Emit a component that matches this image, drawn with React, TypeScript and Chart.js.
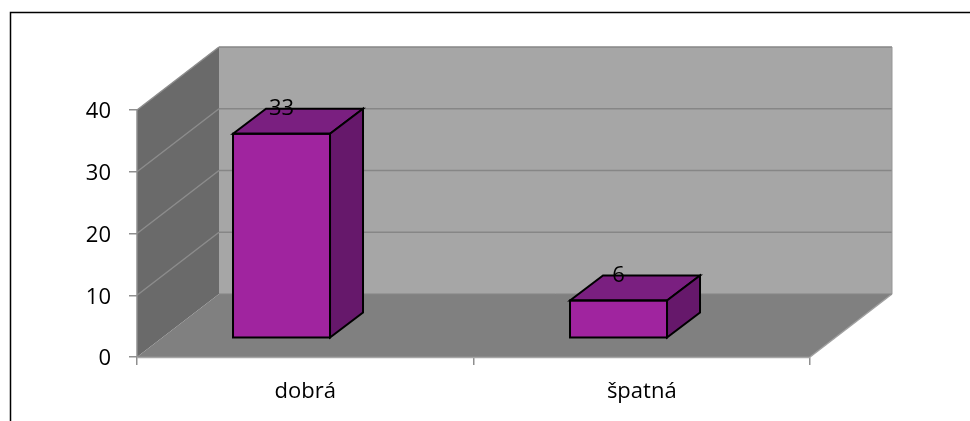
import React, { useEffect, useRef } from "react";
import { Chart, registerables } from "chart.js";

Chart.register(...registerables);

const categories = ["dobrá", "špatná"];
const values = [33, 6];
const axisMax = 40;
const axisStep = 10;

const FONT = "'Open Sans', sans-serif";
const WALL_DX = 82;
const WALL_DY = 63;
const BAR_DX = 33;
const BAR_DY = 25;

const scene = {
  id: "scene",
  beforeDraw(chart: any) {
    const c = chart.ctx;
    c.save();
    c.fillStyle = "#ffffff";
    c.fillRect(0, 0, chart.width, chart.height);
    c.strokeStyle = "#000000";
    c.lineWidth = 1.5;
    c.beginPath();
    c.moveTo(10.5, chart.height);
    c.lineTo(10.5, 12.5);
    c.lineTo(chart.width, 12.5);
    c.stroke();
    c.restore();
  },
  beforeDatasetsDraw(chart: any) {
    const { left, right, top, bottom } = chart.chartArea;
    const y = chart.scales.y;
    const c = chart.ctx;
    const poly = (pts: number[][], fill: string) => {
      c.fillStyle = fill;
      c.beginPath();
      pts.forEach((p, i) => (i ? c.lineTo(p[0], p[1]) : c.moveTo(p[0], p[1])));
      c.closePath();
      c.fill();
    };
    const line = (x0: number, y0: number, x1: number, y1: number, col: string, w: number) => {
      c.strokeStyle = col;
      c.lineWidth = w;
      c.beginPath();
      c.moveTo(x0, y0);
      c.lineTo(x1, y1);
      c.stroke();
    };
    c.save();
    poly(
      [[left + WALL_DX, top - WALL_DY], [right + WALL_DX, top - WALL_DY], [right + WALL_DX, bottom - WALL_DY], [left + WALL_DX, bottom - WALL_DY]],
      "#a6a6a6"
    );
    poly(
      [[left, top], [left + WALL_DX, top - WALL_DY], [left + WALL_DX, bottom - WALL_DY], [left, bottom]],
      "#6a6a6a"
    );
    poly(
      [[left, bottom], [right, bottom], [right + WALL_DX, bottom - WALL_DY], [left + WALL_DX, bottom - WALL_DY]],
      "#808080"
    );
    for (const t of y.ticks) {
      const py = y.getPixelForValue(t.value);
      if (t.value === 0) continue;
      line(left, py, left + WALL_DX, py - WALL_DY, "#8c8c8c", 1.5);
      line(left + WALL_DX, py - WALL_DY, right + WALL_DX, py - WALL_DY, "#868686", 1.5);
    }
    line(left, top, left, bottom, "#8f8f8f", 1.5);
    line(left, bottom + 0.5, right, bottom + 0.5, "#a6a6a6", 1.5);
    line(right, bottom, right + WALL_DX, bottom - WALL_DY, "#a0a0a0", 1.5);
    line(left + WALL_DX, bottom - WALL_DY, right + WALL_DX, bottom - WALL_DY, "#858585", 1);
    line(right + WALL_DX, top - WALL_DY, right + WALL_DX, bottom - WALL_DY, "#969696", 1);
    c.restore();
  },
  afterDatasetsDraw(chart: any) {
    const c = chart.ctx;
    const bars = chart.getDatasetMeta(0).data;
    c.save();
    c.strokeStyle = "#000000";
    c.lineWidth = 2;
    c.lineJoin = "miter";
    bars.forEach((b: any, i: number) => {
      const x0 = b.x - b.width / 2;
      const x1 = b.x + b.width / 2;
      const top = b.y;
      const base = b.base;
      c.fillStyle = "#7a1f80";
      c.beginPath();
      c.moveTo(x0, top);
      c.lineTo(x0 + BAR_DX, top - BAR_DY);
      c.lineTo(x1 + BAR_DX, top - BAR_DY);
      c.lineTo(x1, top);
      c.closePath();
      c.fill();
      c.stroke();
      c.fillStyle = "#66186b";
      c.beginPath();
      c.moveTo(x1, top);
      c.lineTo(x1 + BAR_DX, top - BAR_DY);
      c.lineTo(x1 + BAR_DX, base - BAR_DY);
      c.lineTo(x1, base);
      c.closePath();
      c.fill();
      c.stroke();
      c.strokeRect(x0, top, b.width, base - top);
      c.fillStyle = "#000000";
      c.font = `22px ${FONT}`;
      c.textAlign = "center";
      c.textBaseline = "middle";
      c.fillText(String(values[i]), b.x, top - 24.5);
    });
    c.restore();
  },
};

export default function App() {
  const ref = useRef<HTMLCanvasElement>(null);
  useEffect(() => {
    const chart = new Chart(ref.current!, {
      type: "bar",
      data: {
        labels: categories,
        datasets: [
          {
            data: values.map((v, i) => ({ x: i, y: v })),
            xAxisID: "xBar",
            yAxisID: "yBar",
            backgroundColor: "#a0249f",
            borderColor: "#000000",
            borderWidth: 0,
            barThickness: 97,
          },
        ],
      },
      options: {
        responsive: false,
        animation: false,
        layout: { padding: { left: 0, top: 110, right: 160, bottom: 0 } },
        plugins: { legend: { display: false }, tooltip: { enabled: false }, title: { display: false } },
        scales: {
          x: {
            type: "category",
            offset: true,
            afterFit: (s: any) => { s.height = 64; },
            border: { display: false },
            grid: { drawOnChartArea: false, drawTicks: true, tickLength: 8, offset: true, color: "#8f8f8f", lineWidth: 1.5 },
            ticks: { color: "#000000", font: { family: FONT, size: 22 }, padding: 14, maxRotation: 0 },
          },
          y: {
            type: "linear",
            min: 0,
            max: axisMax,
            afterFit: (s: any) => { s.width = 137; },
            border: { display: false },
            grid: { drawOnChartArea: false, drawTicks: true, tickLength: 8, color: "#8f8f8f", lineWidth: 1.5 },
            ticks: { stepSize: axisStep, color: "#000000", font: { family: FONT, size: 22 }, padding: 18, labelOffset: 2 },
          },
          xBar: { type: "linear", display: false, offset: false, grid: { offset: false }, min: -0.4288, max: 1.5682 },
          yBar: { type: "linear", display: false, min: -3.16, max: 36.84 },
        },
      },
      plugins: [scene],
    } as any);
    return () => chart.destroy();
  }, []);
  return (
    <div style={{ position: "absolute", left: 0, top: 0, width: 970, height: 421 }}>
      <canvas ref={ref} width={970} height={421} style={{ display: "block" }} />
    </div>
  );
}
